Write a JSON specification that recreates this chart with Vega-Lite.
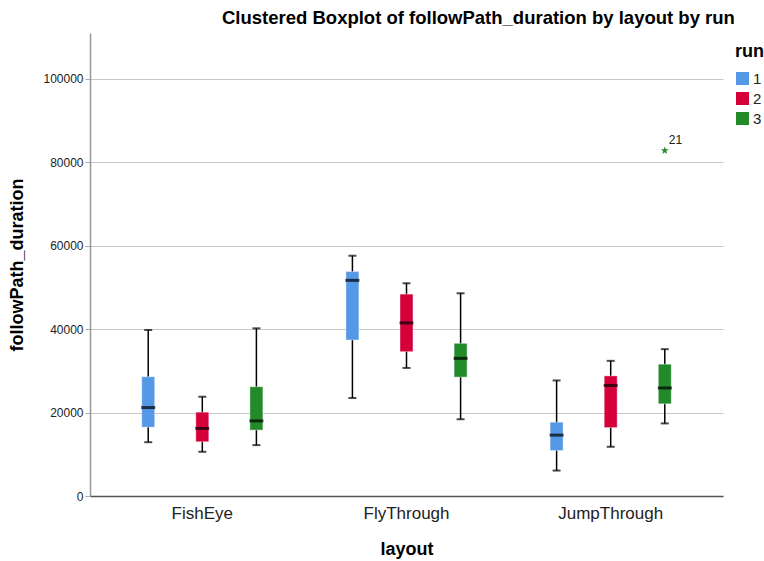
{
  "$schema": "https://vega.github.io/schema/vega-lite/v6.json",
  "width": 633,
  "height": 463,
  "autosize": {"type": "none"},
  "padding": {"left": 90, "top": 33, "right": 41, "bottom": 65},
  "background": "white",
  "config": {
    "font": "Liberation Sans",
    "view": {"stroke": null},
    "axis": {"labelFont": "Liberation Sans", "titleFont": "Liberation Sans"}
  },
  "title": {
    "text": "Clustered Boxplot of followPath_duration by layout by run",
    "anchor": "start",
    "frame": "group",
    "dx": 132,
    "offset": 6,
    "fontSize": 18.5,
    "fontWeight": "bold",
    "color": "#000000",
    "font": "Liberation Sans"
  },
  "datasets": {
    "boxes": [
      {"layout": "FishEye", "run": "1", "lower": 12900, "q1": 16500, "median": 21200, "q3": 28600, "upper": 39800},
      {"layout": "FishEye", "run": "2", "lower": 10600, "q1": 13000, "median": 16200, "q3": 20100, "upper": 23800},
      {"layout": "FishEye", "run": "3", "lower": 12200, "q1": 15800, "median": 18000, "q3": 26200, "upper": 40200},
      {"layout": "FlyThrough", "run": "1", "lower": 23500, "q1": 37400, "median": 51700, "q3": 53800, "upper": 57600},
      {"layout": "FlyThrough", "run": "2", "lower": 30700, "q1": 34600, "median": 41500, "q3": 48400, "upper": 51000},
      {"layout": "FlyThrough", "run": "3", "lower": 18400, "q1": 28500, "median": 33000, "q3": 36600, "upper": 48600},
      {"layout": "JumpThrough", "run": "1", "lower": 6100, "q1": 10900, "median": 14600, "q3": 17700, "upper": 27700},
      {"layout": "JumpThrough", "run": "2", "lower": 11800, "q1": 16400, "median": 26500, "q3": 28800, "upper": 32400},
      {"layout": "JumpThrough", "run": "3", "lower": 17400, "q1": 22100, "median": 25900, "q3": 31600, "upper": 35200}
    ],
    "outliers": [
      {"layout": "JumpThrough", "run": "3", "value": 82800, "case": "21"}
    ]
  },
  "encoding": {
    "x": {
      "field": "layout",
      "type": "nominal",
      "sort": ["FishEye", "FlyThrough", "JumpThrough"],
      "scale": {"domain": ["FishEye", "FlyThrough", "JumpThrough"], "paddingInner": 0.2, "paddingOuter": 0.15},
      "axis": {
        "title": "layout",
        "titleFontSize": 18,
        "titleFontWeight": "bold",
        "titleColor": "#000000",
        "titlePadding": 19,
        "labelFontSize": 17,
        "labelColor": "#222222",
        "labelAngle": 0,
        "labelPadding": 9,
        "ticks": false,
        "domainColor": "#555555",
        "domainWidth": 1.5,
        "grid": false
      }
    },
    "xOffset": {
      "field": "run",
      "type": "nominal",
      "scale": {"domain": ["1", "2", "3"], "paddingInner": 0.76, "paddingOuter": 0.39}
    }
  },
  "layer": [
    {
      "data": {"name": "boxes"},
      "mark": {"type": "rule", "color": "#000000", "strokeWidth": 1.5},
      "encoding": {
        "y": {
          "field": "lower",
          "type": "quantitative",
          "scale": {"domain": [0, 111000], "nice": false, "zero": true},
          "axis": {
            "title": "followPath_duration",
            "titleFontSize": 18,
            "titleFontWeight": "bold",
            "titleColor": "#000000",
            "titlePadding": 16,
            "labelFontSize": 12,
            "labelColor": "#222222",
            "values": [0, 20000, 40000, 60000, 80000, 100000],
            "format": "d",
            "tickSize": 5,
            "tickColor": "#aaaaaa",
            "labelPadding": 2,
            "domainColor": "#999999",
            "domainWidth": 1.5,
            "grid": true,
            "gridColor": "#c8c8c8",
            "gridWidth": 1.2
          }
        },
        "y2": {"field": "upper"}
      }
    },
    {
      "data": {"name": "boxes"},
      "mark": {"type": "bar", "stroke": "white", "strokeOpacity": 0.4, "strokeWidth": 1},
      "encoding": {
        "y": {"field": "q1", "type": "quantitative"},
        "y2": {"field": "q3"},
        "color": {
          "field": "run",
          "type": "nominal",
          "scale": {"domain": ["1", "2", "3"], "range": ["#5599E6", "#D5003A", "#238A2A"]},
          "legend": {
            "title": "run",
            "orient": "none",
            "legendX": 645,
            "legendY": 10,
            "titleFontSize": 18,
            "titleFontWeight": "bold",
            "titleColor": "#000000",
            "titlePadding": 10,
            "labelFontSize": 15,
            "labelColor": "#222222",
            "labelOffset": 3,
            "symbolType": "square",
            "symbolSize": 170,
            "symbolStrokeWidth": 0,
            "symbolOpacity": 1,
            "rowPadding": 4
          }
        }
      }
    },
    {
      "data": {"name": "boxes"},
      "mark": {"type": "tick", "color": "#000000", "thickness": 3, "size": 14, "orient": "horizontal"},
      "encoding": {"y": {"field": "median", "type": "quantitative"}}
    },
    {
      "data": {"name": "boxes"},
      "mark": {"type": "tick", "color": "#000000", "thickness": 2, "size": 8, "orient": "horizontal"},
      "encoding": {"y": {"field": "lower", "type": "quantitative"}}
    },
    {
      "data": {"name": "boxes"},
      "mark": {"type": "tick", "color": "#000000", "thickness": 2, "size": 8, "orient": "horizontal"},
      "encoding": {"y": {"field": "upper", "type": "quantitative"}}
    },
    {
      "data": {"name": "outliers"},
      "mark": {
        "type": "point",
        "filled": true,
        "opacity": 1,
        "size": 70,
        "color": "#238A2A",
        "shape": "M0,-1L0.2245,-0.309L0.951,-0.309L0.363,0.118L0.588,0.809L0,0.382L-0.588,0.809L-0.363,0.118L-0.951,-0.309L-0.2245,-0.309Z"
      },
      "encoding": {"y": {"field": "value", "type": "quantitative"}}
    },
    {
      "data": {"name": "outliers"},
      "mark": {"type": "text", "align": "left", "dx": 4, "dy": -11, "fontSize": 12, "color": "#222222"},
      "encoding": {
        "y": {"field": "value", "type": "quantitative"},
        "text": {"field": "case"}
      }
    }
  ]
}
